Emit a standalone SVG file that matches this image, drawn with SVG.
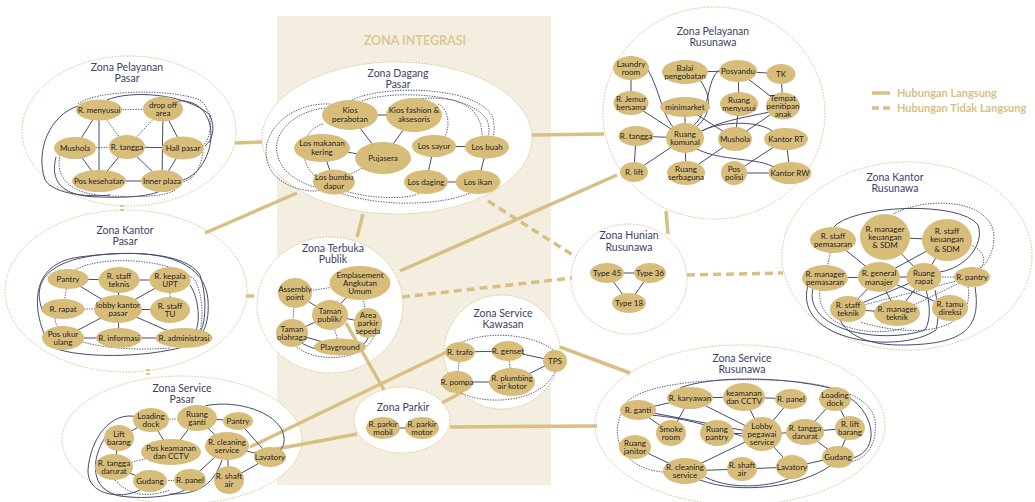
<svg xmlns="http://www.w3.org/2000/svg" width="1035" height="502" viewBox="0 0 1035 502">
<style>
.z{fill:#fff;stroke:#d9c38f;stroke-width:1;stroke-dasharray:1.6 1.4}
.zt{font-family:Lato,"Liberation Sans",sans-serif;font-size:10.5px;fill:#3d4266;text-anchor:middle}
.n ellipse{fill:#d7bc7a}
.n text{font-family:Lato,"Liberation Sans",sans-serif;font-size:8px;fill:#1f1f1f;text-anchor:middle}
.e{stroke:#454c6c;stroke-width:1;fill:none}
.d{stroke:#454c6c;stroke-width:0.9;fill:none;stroke-dasharray:1.4 1.2}
.c{stroke:#d8c084;stroke-width:3.5;fill:none}
.cd{stroke:#d8c084;stroke-width:3.5;fill:none;stroke-dasharray:8 5}
.lg{font-family:Lato,"Liberation Sans",sans-serif;font-size:11px;font-weight:bold;fill:#d8c084}
</style>
<rect x="277" y="16" width="274" height="469" fill="#f4eee0"/>
<text x="415" y="45" text-anchor="middle" style="font-family:Lato,'Liberation Sans',sans-serif;font-size:12.5px;font-weight:bold;fill:#dcc796">ZONA INTEGRASI</text>

<g id="legend">
<line class="c" x1="872" y1="93" x2="890" y2="93"/>
<line class="c" x1="872" y1="108" x2="890" y2="108" stroke-dasharray="7 4"/>
<text class="lg" x="897" y="97">Hubungan Langsung</text>
<text class="lg" x="897" y="112">Hubungan Tidak Langsung</text>
</g>

<g id="zones">
<g id="zona-pelayanan-pasar"><ellipse class="z" cx="129" cy="131" rx="107" ry="75"/><text class="zt" x="127" y="71">Zona Pelayanan</text><text class="zt" x="127" y="82">Pasar</text></g>
<g id="zona-dagang-pasar"><ellipse class="z" cx="397" cy="138" rx="135" ry="76"/><text class="zt" x="398" y="77">Zona Dagang</text><text class="zt" x="398" y="88">Pasar</text></g>
<g id="zona-pelayanan-rusunawa"><ellipse class="z" cx="714" cy="113" rx="111" ry="106"/><text class="zt" x="713" y="35">Zona Pelayanan</text><text class="zt" x="713" y="46">Rusunawa</text></g>
<g id="zona-kantor-rusunawa"><ellipse class="z" cx="907" cy="256" rx="125" ry="94"/><text class="zt" x="895" y="181">Zona Kantor</text><text class="zt" x="895" y="192">Rusunawa</text></g>
<g id="zona-kantor-pasar"><ellipse class="z" cx="126" cy="291" rx="121" ry="81"/><text class="zt" x="125" y="234">Zona Kantor</text><text class="zt" x="125" y="245">Pasar</text></g>
<g id="zona-terbuka-publik"><ellipse class="z" cx="330" cy="305" rx="73" ry="68"/><text class="zt" x="333" y="252">Zona Terbuka</text><text class="zt" x="333" y="263">Publik</text></g>
<g id="zona-hunian-rusunawa"><ellipse class="z" cx="629" cy="279" rx="58" ry="55"/><text class="zt" x="629" y="239">Zona Hunian</text><text class="zt" x="629" y="251">Rusunawa</text></g>
<g id="zona-service-kawasan"><ellipse class="z" cx="502" cy="352" rx="58" ry="57"/><text class="zt" x="503" y="317">Zona Service</text><text class="zt" x="503" y="328">Kawasan</text></g>
<g id="zona-parkir"><ellipse class="z" cx="402" cy="420" rx="48" ry="33"/><text class="zt" x="403" y="411">Zona Parkir</text></g>
<g id="zona-service-pasar"><ellipse class="z" cx="182" cy="440" rx="120" ry="64"/><text class="zt" x="182" y="392">Zona Service</text><text class="zt" x="182" y="403">Pasar</text></g>
<g id="zona-service-rusunawa"><ellipse class="z" cx="740" cy="425" rx="145" ry="80"/><text class="zt" x="742" y="362">Zona Service</text><text class="zt" x="742" y="373">Rusunawa</text></g>
</g>

<g id="connectors">
<!-- zone links -->
<line class="c" x1="235" y1="143" x2="262" y2="142"/>
<line class="c" x1="205" y1="233" x2="297" y2="193"/>
<line class="c" x1="122" y1="205" x2="122" y2="211" stroke-dasharray="2 2"/>
<line class="c" x1="148" y1="369" x2="148" y2="377" stroke-dasharray="2 2"/>
<line class="cd" x1="246" y1="296" x2="258" y2="296" stroke-dasharray="5 3"/>
<line class="c" x1="363" y1="214" x2="357" y2="237"/>
<line class="c" x1="400" y1="271" x2="617" y2="175"/>
<line class="c" x1="532" y1="135" x2="604" y2="134"/>
<line class="cd" x1="488" y1="201" x2="576" y2="257"/>
<line class="cd" x1="402" y1="297" x2="572" y2="278"/>
<line class="cd" x1="687" y1="275" x2="783" y2="273"/>
<line class="c" x1="666" y1="211" x2="668" y2="234"/>
<line class="c" x1="560" y1="347" x2="630" y2="373"/>
<line class="c" x1="450" y1="427" x2="597" y2="426"/>
<line class="c" x1="442" y1="403" x2="462" y2="392"/>
<line class="c" x1="250" y1="447" x2="447" y2="352"/>
<line class="c" x1="255" y1="453" x2="357" y2="434"/>
<line class="c" x1="346" y1="323" x2="384" y2="390"/>

<!-- Zona Pelayanan Pasar -->
<path class="d" d="M99,110L163,109M99,110L127,147M163,109L127,147M75,148L127,147"/>
<path class="e" d="M99,110L75,148M99,110L99,181M163,109L162,181M163,109L183,148M75,148L99,181M127,147L99,181M127,147L162,181M183,148L162,181"/>
<path class="e" stroke-width="2" d="M127,147L183,148M99,181L162,181"/>
<path class="d" d="M78,104C95,90 170,88 200,100C215,112 212,140 202,146"/>
<path class="e" d="M107,100C130,90 185,93 210,115C216,130 212,140 205,146"/>
<path class="d" d="M203,152C200,170 195,178 183,182"/>
<path class="e" d="M78,106C50,115 35,150 45,180C55,195 90,197 110,195"/>
<path class="e" d="M56,157C50,180 60,197 100,197C130,198 150,196 160,191"/>
<path class="e" d="M183,180C200,175 215,150 210,125C205,105 190,100 178,101"/>
<path class="d" d="M60,155C55,178 70,195 110,196C140,197 165,197 175,190"/>

<!-- Zona Dagang Pasar -->
<path class="e" d="M350,115L414,115M322,148L383,158M322,148L334,182M434,146L487,147M434,146L426,182M487,147L478,182M426,182L478,182M414,115L383,158"/>
<path class="e" stroke-width="0.7" d="M350,115L383,158"/>
<path class="d" d="M383,158L334,182"/>
<path class="d" d="M362,101C390,90 470,92 487,120C490,128 489,133 488,136"/>
<path class="d" d="M352,100C385,84 480,86 493,118C495,128 494,133 493,137"/>
<path class="d" d="M420,99C455,95 482,105 482,136"/>
<path class="d" d="M438,104C452,110 450,138 440,140"/>
<path class="d" d="M325,108C290,112 262,140 285,170C298,183 315,188 322,188"/>
<path class="d" d="M330,104C285,102 252,140 272,172C285,190 315,193 320,190"/>
<path class="d" d="M323,124C300,130 298,162 315,176"/>
<path class="d" d="M340,193C380,207 440,206 470,193"/>
<path class="d" d="M345,191C375,200 410,199 420,193"/>

<!-- Zona Pelayanan Rusunawa -->
<path class="e" d="M631,68L631,103M631,103L685,138M685,72L738,71M738,71L781,74M738,71L739,104M738,71L783,106M781,74L783,106M685,107L685,138M739,104L735,139M636,136L685,138M636,136L634,172M634,172L685,138M685,138L686,173M735,139L686,173M786,139L734,173M786,139L790,173M734,173L790,173"/>
<path class="e" stroke-width="0.7" d="M685,107L735,139M783,106L735,139"/>
<path class="e" d="M648,70C660,90 662,118 676,130"/>
<path class="e" d="M700,80C715,100 708,120 694,128"/>
<path class="e" d="M720,70C705,78 712,115 690,128"/>
<path class="e" stroke-width="0.7" d="M770,112C740,118 718,122 700,132"/>
<path class="e" d="M700,132C720,120 765,120 775,134"/>
<path class="e" d="M695,148C720,162 760,157 775,168"/>

<!-- Zona Kantor Rusunawa -->
<path class="e" d="M833,240L879,277M885,237L947,240M885,237L924,277M947,240L879,277M947,240L924,277M825,278L879,277M879,277L924,277M879,277L848,309M879,277L897,313M879,277L950,308M924,277L848,309M924,277L897,313M848,309L897,313"/>
<path class="d" d="M833,240L825,278M924,277L972,277M848,309L972,277M897,313L972,277"/>
<path class="e" d="M833,228C850,205 960,200 978,225C985,245 965,268 940,272"/>
<path class="d" d="M893,214C930,195 992,200 994,236C994,255 985,265 980,268"/>
<path class="d" d="M970,245C985,250 986,262 981,268"/>
<path class="e" d="M813,288C803,330 880,345 925,330C932,318 929,300 926,290"/>
<path class="e" d="M808,285C792,342 900,355 936,330C940,315 937,300 935,290"/>
<path class="e" d="M975,287C982,330 962,345 900,345C860,345 845,330 840,320"/>
<path class="d" d="M968,287C975,330 920,340 860,322"/>
<path class="d" d="M820,290C815,328 870,338 905,328"/>

<!-- Zona Kantor Pasar -->
<path class="e" d="M68,279L119,280M119,280L170,280M119,280L118,309M170,280L118,309M118,309L170,310M118,309L63,338M118,309L119,338M118,309L184,338M63,338L119,338M119,338L184,338"/>
<path class="e" stroke-width="0.7" d="M68,279L118,309"/>
<path class="d" d="M68,279L63,309M170,280L170,310M63,309L118,309"/>
<path class="e" d="M190,285C200,300 200,325 195,332"/>
<path class="e" d="M43,312C30,280 50,258 110,254C170,250 205,265 208,300C210,330 200,345 170,350C120,360 60,355 50,345"/>
<path class="e" d="M45,336C30,300 35,262 80,257C130,250 185,252 200,275C208,300 205,325 200,332"/>
<path class="d" d="M75,270C100,255 170,258 195,280C205,300 202,325 200,330"/>
<path class="d" d="M55,318C55,345 120,352 170,348"/>

<!-- Zona Terbuka Publik -->
<path class="d" d="M295,293L360,283M295,293L292,333M360,283L368,323M330,315L340,347"/>
<path class="e" stroke-width="0.7" d="M295,293L330,315"/>
<path class="e" d="M360,283L330,315M330,315L292,333M330,315L368,323M292,333L340,347"/>
<path class="d" d="M295,345C310,362 362,364 374,336"/>
<path class="e" d="M300,342C320,355 360,357 368,338"/>

<!-- Zona Hunian -->
<path class="e" d="M607,273L650,273L629,303Z"/>

<!-- Zona Service Kawasan -->
<path class="e" d="M460,352L508,351M508,351L555,361M457,382L512,382M512,382L555,361"/>
<path class="d" d="M460,352L457,382M508,351L512,382"/>
<path class="d" d="M462,342C490,330 535,335 553,350"/>
<path class="d" d="M460,392C480,405 540,405 555,372"/>

<!-- Zona Parkir -->
<path class="e" d="M383,428L422,428"/>

<!-- Zona Service Pasar -->
<path class="d" d="M151,420L197,418M114,467L171,452M150,481L190,480"/>
<path class="e" d="M151,420L119,438M197,418L238,421M197,418L171,452M197,418L227,446M238,421L270,457M227,446L270,457M227,446L229,480M227,446L190,480M119,438L114,467M114,467L150,481M270,457L229,480"/>
<path class="e" stroke-width="0.7" d="M151,420L171,452"/>
<path class="e" d="M138,417C110,410 90,440 88,470C87,495 120,500 140,490"/>
<path class="e" d="M106,436C90,460 90,490 120,496C150,500 175,495 185,490"/>
<path class="e" d="M205,406C230,400 270,408 282,430C288,445 280,450 278,452"/>
<path class="e" d="M222,460C215,482 200,495 170,494"/>
<path class="d" d="M115,480C130,497 150,497 170,490"/>

<!-- Zona Service Rusunawa -->
<path class="e" d="M690,398L638,410M690,398L744,397M690,398L671,433M690,398L762,434M744,397L791,399M744,397L762,434M791,399L762,434M638,410L671,433M638,410L762,434M717,433L762,434M762,434L805,432M762,434L792,467M762,434L685,471M835,399L805,432M835,399L850,428M805,432L850,428M805,432L838,457M850,428L838,457M838,457L792,467M635,447L685,471M685,471L742,469M742,469L792,467"/>
<path class="e" d="M650,415C690,418 720,430 745,437"/>
<path class="e" d="M850,398C875,415 880,450 853,458"/>
<path class="e" d="M700,480C740,495 800,487 830,466"/>
<path class="e" d="M705,477C735,492 775,485 790,478"/>
<path class="e" d="M680,388C710,376 780,376 830,388"/>
<path class="d" d="M625,404C640,385 700,378 770,380C830,382 870,395 875,420C878,445 865,460 850,462"/>
<path class="d" d="M622,412C610,435 620,468 663,472"/>
</g>

<!-- Nodes: Zona Pelayanan Pasar -->
<g id="pp-menyusui" class="n"><ellipse cx="99" cy="110" rx="23" ry="10.5"/><text x="99" y="113">R. menyusui</text></g>
<g id="pp-dropoff" class="n"><ellipse cx="163" cy="109" rx="20" ry="12.5"/><text x="163" y="107.5"><tspan x="163">drop off</tspan><tspan x="163" dy="8">area</tspan></text></g>
<g id="pp-mushola" class="n"><ellipse cx="75" cy="148" rx="21" ry="11"/><text x="75" y="151">Mushola</text></g>
<g id="pp-tangga" class="n"><ellipse cx="127" cy="147" rx="18" ry="12"/><text x="127" y="150">R. tangga</text></g>
<g id="pp-hall" class="n"><ellipse cx="183" cy="148" rx="21" ry="11.5"/><text x="183" y="151">Hall pasar</text></g>
<g id="pp-poskes" class="n"><ellipse cx="99" cy="181" rx="27" ry="11"/><text x="99" y="184">Pos kesehatan</text></g>
<g id="pp-inner" class="n"><ellipse cx="162" cy="181" rx="21" ry="11"/><text x="162" y="184">Inner plaza</text></g>

<!-- Zona Dagang Pasar -->
<g id="dp-kiosperabotan" class="n"><ellipse cx="350" cy="115" rx="28" ry="15"/><text x="350" y="113"><tspan x="350">Kios</tspan><tspan x="350" dy="8.5">perabotan</tspan></text></g>
<g id="dp-kiosfashion" class="n"><ellipse cx="414" cy="115" rx="28" ry="17"/><text x="414" y="113"><tspan x="414">Kios fashion &amp;</tspan><tspan x="414" dy="8.5">aksesoris</tspan></text></g>
<g id="dp-losmakanan" class="n"><ellipse cx="322" cy="148" rx="28" ry="14"/><text x="322" y="146"><tspan x="322">Los makanan</tspan><tspan x="322" dy="8.5">kering</tspan></text></g>
<g id="dp-pujasera" class="n"><ellipse cx="383" cy="158" rx="28" ry="16"/><text x="383" y="161">Pujasera</text></g>
<g id="dp-lossayur" class="n"><ellipse cx="434" cy="146" rx="22" ry="11"/><text x="434" y="149">Los sayur</text></g>
<g id="dp-losbuah" class="n"><ellipse cx="487" cy="147" rx="22" ry="11.5"/><text x="487" y="150">Los buah</text></g>
<g id="dp-losbumbu" class="n"><ellipse cx="334" cy="182" rx="21" ry="12.5"/><text x="334" y="180"><tspan x="334">Los bumbu</tspan><tspan x="334" dy="8.5">dapur</tspan></text></g>
<g id="dp-losdaging" class="n"><ellipse cx="426" cy="182" rx="22" ry="12"/><text x="426" y="185">Los daging</text></g>
<g id="dp-losikan" class="n"><ellipse cx="478" cy="182" rx="22.5" ry="12"/><text x="478" y="185">Los ikan</text></g>

<!-- Zona Pelayanan Rusunawa -->
<g id="pr-laundry" class="n"><ellipse cx="631" cy="68" rx="18" ry="12"/><text x="631" y="66.5"><tspan x="631">Laundry</tspan><tspan x="631" dy="8">room</tspan></text></g>
<g id="pr-balai" class="n"><ellipse cx="685" cy="72" rx="23" ry="12"/><text x="685" y="70.5"><tspan x="685">Balai</tspan><tspan x="685" dy="8">pengobatan</tspan></text></g>
<g id="pr-posyandu" class="n"><ellipse cx="738" cy="71" rx="19" ry="11"/><text x="738" y="74">Posyandu</text></g>
<g id="pr-tk" class="n"><ellipse cx="781" cy="74" rx="14.5" ry="10"/><text x="781" y="77">TK</text></g>
<g id="pr-jemur" class="n"><ellipse cx="631" cy="103" rx="17.5" ry="12"/><text x="631" y="101.5"><tspan x="631">R. Jemur</tspan><tspan x="631" dy="8">bersama</tspan></text></g>
<g id="pr-minimarket" class="n"><ellipse cx="685" cy="107" rx="25" ry="10"/><text x="685" y="110">minimarket</text></g>
<g id="pr-menyusui" class="n"><ellipse cx="739" cy="104" rx="19" ry="12"/><text x="739" y="102.5"><tspan x="739">Ruang</tspan><tspan x="739" dy="8">menyusui</tspan></text></g>
<g id="pr-penitipan" class="n"><ellipse cx="783" cy="106" rx="17" ry="13.5"/><text x="783" y="100.5"><tspan x="783">Tempat</tspan><tspan x="783" dy="8">penitipan</tspan><tspan x="783" dy="8">anak</tspan></text></g>
<g id="pr-tangga" class="n"><ellipse cx="636" cy="136" rx="17.5" ry="10"/><text x="636" y="139">R. tangga</text></g>
<g id="pr-komunal" class="n"><ellipse cx="685" cy="138" rx="19" ry="15"/><text x="685" y="136.5"><tspan x="685">Ruang</tspan><tspan x="685" dy="8">komunal</tspan></text></g>
<g id="pr-mushola" class="n"><ellipse cx="735" cy="139" rx="17" ry="12"/><text x="735" y="142">Mushola</text></g>
<g id="pr-kantorrt" class="n"><ellipse cx="786" cy="139" rx="22" ry="11"/><text x="786" y="142">Kantor RT</text></g>
<g id="pr-lift" class="n"><ellipse cx="634" cy="172" rx="14" ry="10"/><text x="634" y="175">R. lift</text></g>
<g id="pr-serbaguna" class="n"><ellipse cx="686" cy="173" rx="19" ry="12"/><text x="686" y="171.5"><tspan x="686">Ruang</tspan><tspan x="686" dy="8">serbaguna</tspan></text></g>
<g id="pr-pospolisi" class="n"><ellipse cx="734" cy="173" rx="13" ry="12"/><text x="734" y="171.5"><tspan x="734">Pos</tspan><tspan x="734" dy="8">polisi</tspan></text></g>
<g id="pr-kantorrw" class="n"><ellipse cx="790" cy="173" rx="21.5" ry="11"/><text x="790" y="176">Kantor RW</text></g>

<!-- Zona Kantor Rusunawa -->
<g id="kr-staffpemasaran" class="n"><ellipse cx="833" cy="240" rx="23" ry="13"/><text x="833" y="238.5"><tspan x="833">R. staff</tspan><tspan x="833" dy="8">pemasaran</tspan></text></g>
<g id="kr-mgrkeuangan" class="n"><ellipse cx="885" cy="237" rx="25" ry="23"/><text x="885" y="231.5"><tspan x="885">R. manager</tspan><tspan x="885" dy="8">keuangan</tspan><tspan x="885" dy="8.5">&amp; SDM</tspan></text></g>
<g id="kr-staffkeuangan" class="n"><ellipse cx="947" cy="240" rx="25" ry="21"/><text x="947" y="233.5"><tspan x="947">R. staff</tspan><tspan x="947" dy="8">keuangan</tspan><tspan x="947" dy="10">&amp; SDM</tspan></text></g>
<g id="kr-mgrpemasaran" class="n"><ellipse cx="825" cy="278" rx="23" ry="13"/><text x="825" y="276.5"><tspan x="825">R. manager</tspan><tspan x="825" dy="8">pemasaran</tspan></text></g>
<g id="kr-gm" class="n"><ellipse cx="879" cy="277" rx="21" ry="15"/><text x="879" y="275.5"><tspan x="879">R. general</tspan><tspan x="879" dy="9">manajer</tspan></text></g>
<g id="kr-rapat" class="n"><ellipse cx="924" cy="277" rx="17.5" ry="14"/><text x="924" y="275.5"><tspan x="924">Ruang</tspan><tspan x="924" dy="8">rapat</tspan></text></g>
<g id="kr-pantry" class="n"><ellipse cx="972" cy="277" rx="18" ry="10"/><text x="972" y="280">R. pantry</text></g>
<g id="kr-staffteknik" class="n"><ellipse cx="848" cy="309" rx="18" ry="13"/><text x="848" y="307.5"><tspan x="848">R. staff</tspan><tspan x="848" dy="8">teknik</tspan></text></g>
<g id="kr-mgrteknik" class="n"><ellipse cx="897" cy="313" rx="23" ry="13"/><text x="897" y="311.5"><tspan x="897">R. manager</tspan><tspan x="897" dy="8">teknik</tspan></text></g>
<g id="kr-tamu" class="n"><ellipse cx="950" cy="308" rx="18" ry="13"/><text x="950" y="306.5"><tspan x="950">R. tamu</tspan><tspan x="950" dy="8">direksi</tspan></text></g>

<!-- Zona Kantor Pasar -->
<g id="kp-pantry" class="n"><ellipse cx="68" cy="279" rx="20.5" ry="10"/><text x="68" y="282">Pantry</text></g>
<g id="kp-staffteknis" class="n"><ellipse cx="119" cy="280" rx="20.5" ry="13"/><text x="119" y="278.5"><tspan x="119">R. staff</tspan><tspan x="119" dy="8">teknis</tspan></text></g>
<g id="kp-kepala" class="n"><ellipse cx="170" cy="280" rx="20.5" ry="13"/><text x="170" y="278.5"><tspan x="170">R. kepala</tspan><tspan x="170" dy="8.5">UPT</tspan></text></g>
<g id="kp-rapat" class="n"><ellipse cx="63" cy="309" rx="21.5" ry="10"/><text x="63" y="312">R. rapat</text></g>
<g id="kp-lobby" class="n"><ellipse cx="118" cy="309" rx="24" ry="14"/><text x="118" y="307.5"><tspan x="118">lobby kantor</tspan><tspan x="118" dy="8.5">pasar</tspan></text></g>
<g id="kp-staffTU" class="n"><ellipse cx="170" cy="310" rx="20" ry="13"/><text x="170" y="308.5"><tspan x="170">R. staff</tspan><tspan x="170" dy="8.5">TU</tspan></text></g>
<g id="kp-posukur" class="n"><ellipse cx="63" cy="338" rx="21" ry="12"/><text x="63" y="336.5"><tspan x="63">Pos ukur</tspan><tspan x="63" dy="8">ulang</tspan></text></g>
<g id="kp-informasi" class="n"><ellipse cx="119" cy="338" rx="23" ry="10"/><text x="119" y="341">R. informasi</text></g>
<g id="kp-administrasi" class="n"><ellipse cx="184" cy="338" rx="28.5" ry="10"/><text x="184" y="341">R. administrasi</text></g>

<!-- Zona Terbuka Publik -->
<g id="tp-assembly" class="n"><ellipse cx="295" cy="293" rx="17" ry="15"/><text x="295" y="291.5"><tspan x="295">Assembly</tspan><tspan x="295" dy="8">point</tspan></text></g>
<g id="tp-emplasement" class="n"><ellipse cx="360" cy="283" rx="30.5" ry="17"/><text x="360" y="277.5"><tspan x="360">Emplasement</tspan><tspan x="360" dy="8">Angkutan</tspan><tspan x="360" dy="8">Umum</tspan></text></g>
<g id="tp-taman" class="n"><ellipse cx="330" cy="315" rx="18" ry="15"/><text x="330" y="313.5"><tspan x="330">Taman</tspan><tspan x="330" dy="8">publik/</tspan></text></g>
<g id="tp-parkirsepeda" class="n"><ellipse cx="368" cy="323" rx="14" ry="15"/><text x="368" y="317.5"><tspan x="368">Area</tspan><tspan x="368" dy="8">parkir</tspan><tspan x="368" dy="8">sepeda</tspan></text></g>
<g id="tp-olahraga" class="n"><ellipse cx="292" cy="333" rx="16" ry="14"/><text x="292" y="331.5"><tspan x="292">Taman</tspan><tspan x="292" dy="8">olahraga</tspan></text></g>
<g id="tp-playground" class="n"><ellipse cx="340" cy="347" rx="26" ry="8.5"/><text x="340" y="350">Playground</text></g>

<!-- Zona Hunian Rusunawa -->
<g id="hr-45" class="n"><ellipse cx="607" cy="273" rx="17" ry="10"/><text x="607" y="276">Type 45</text></g>
<g id="hr-36" class="n"><ellipse cx="650" cy="273" rx="16" ry="10"/><text x="650" y="276">Type 36</text></g>
<g id="hr-18" class="n"><ellipse cx="629" cy="303" rx="17" ry="10"/><text x="629" y="306">Type 18</text></g>

<!-- Zona Service Kawasan -->
<g id="sk-trafo" class="n"><ellipse cx="460" cy="352" rx="15" ry="10"/><text x="460" y="355">R. trafo</text></g>
<g id="sk-genset" class="n"><ellipse cx="508" cy="351" rx="16" ry="10"/><text x="508" y="354">R. genset</text></g>
<g id="sk-tps" class="n"><ellipse cx="555" cy="361" rx="12" ry="11"/><text x="555" y="364">TPS</text></g>
<g id="sk-pompa" class="n"><ellipse cx="457" cy="382" rx="16" ry="11"/><text x="457" y="385">R. pompa</text></g>
<g id="sk-plumbing" class="n"><ellipse cx="512" cy="382" rx="23" ry="14"/><text x="512" y="380.5"><tspan x="512">R. plumbing</tspan><tspan x="512" dy="8">air kotor</tspan></text></g>

<!-- Zona Parkir -->
<g id="pk-mobil" class="n"><ellipse cx="383" cy="428" rx="17" ry="11"/><text x="383" y="426.5"><tspan x="383">R. parkir</tspan><tspan x="383" dy="8">mobil</tspan></text></g>
<g id="pk-motor" class="n"><ellipse cx="422" cy="428" rx="17" ry="11"/><text x="422" y="426.5"><tspan x="422">R. parkir</tspan><tspan x="422" dy="8">motor</tspan></text></g>

<!-- Zona Service Pasar -->
<g id="sp-loading" class="n"><ellipse cx="151" cy="420" rx="18" ry="12"/><text x="151" y="418.5"><tspan x="151">Loading</tspan><tspan x="151" dy="8">dock</tspan></text></g>
<g id="sp-ganti" class="n"><ellipse cx="197" cy="418" rx="20" ry="13"/><text x="197" y="416.5"><tspan x="197">Ruang</tspan><tspan x="197" dy="8">ganti</tspan></text></g>
<g id="sp-pantry" class="n"><ellipse cx="238" cy="421" rx="15" ry="9"/><text x="238" y="424">Pantry</text></g>
<g id="sp-lift" class="n"><ellipse cx="119" cy="438" rx="15" ry="13"/><text x="119" y="436.5"><tspan x="119">Lift</tspan><tspan x="119" dy="8">barang</tspan></text></g>
<g id="sp-poskeamanan" class="n"><ellipse cx="171" cy="452" rx="30" ry="13"/><text x="171" y="450.5"><tspan x="171">Pos keamanan</tspan><tspan x="171" dy="8.5">dan CCTV</tspan></text></g>
<g id="sp-cleaning" class="n"><ellipse cx="227" cy="446" rx="22" ry="14"/><text x="227" y="444.5"><tspan x="227">R. cleaning</tspan><tspan x="227" dy="8">service</tspan></text></g>
<g id="sp-lavatory" class="n"><ellipse cx="270" cy="457" rx="16" ry="10"/><text x="270" y="460">Lavatory</text></g>
<g id="sp-tangga" class="n"><ellipse cx="114" cy="467" rx="19" ry="13"/><text x="114" y="465.5"><tspan x="114">R. tangga</tspan><tspan x="114" dy="8">darurat</tspan></text></g>
<g id="sp-gudang" class="n"><ellipse cx="150" cy="481" rx="17" ry="11"/><text x="150" y="484">Gudang</text></g>
<g id="sp-panel" class="n"><ellipse cx="190" cy="480" rx="16" ry="11"/><text x="190" y="483">R. panel</text></g>
<g id="sp-shaft" class="n"><ellipse cx="229" cy="480" rx="15" ry="14"/><text x="229" y="478.5"><tspan x="229">R. shaft</tspan><tspan x="229" dy="8">air</tspan></text></g>

<!-- Zona Service Rusunawa -->
<g id="sr-karyawan" class="n"><ellipse cx="690" cy="398" rx="23" ry="11"/><text x="690" y="401">R. karyawan</text></g>
<g id="sr-keamanan" class="n"><ellipse cx="744" cy="397" rx="21" ry="14"/><text x="744" y="395.5"><tspan x="744">keamanan</tspan><tspan x="744" dy="8">dan CCTV</tspan></text></g>
<g id="sr-panel" class="n"><ellipse cx="791" cy="399" rx="16" ry="10"/><text x="791" y="402">R. panel</text></g>
<g id="sr-loading" class="n"><ellipse cx="835" cy="399" rx="16" ry="12"/><text x="835" y="397.5"><tspan x="835">Loading</tspan><tspan x="835" dy="8">dock</tspan></text></g>
<g id="sr-ganti" class="n"><ellipse cx="638" cy="410" rx="18" ry="10"/><text x="638" y="413">R. ganti</text></g>
<g id="sr-smoke" class="n"><ellipse cx="671" cy="433" rx="15" ry="13"/><text x="671" y="431.5"><tspan x="671">Smoke</tspan><tspan x="671" dy="8">room</tspan></text></g>
<g id="sr-pantry" class="n"><ellipse cx="717" cy="433" rx="17" ry="13"/><text x="717" y="431.5"><tspan x="717">Ruang</tspan><tspan x="717" dy="8">pantry</tspan></text></g>
<g id="sr-lobby" class="n"><ellipse cx="762" cy="434" rx="20" ry="17"/><text x="762" y="428.5"><tspan x="762">Lobby</tspan><tspan x="762" dy="8">pegawai</tspan><tspan x="762" dy="8">service</tspan></text></g>
<g id="sr-tangga" class="n"><ellipse cx="805" cy="432" rx="19" ry="13"/><text x="805" y="430.5"><tspan x="805">R. tangga</tspan><tspan x="805" dy="8">darurat</tspan></text></g>
<g id="sr-lift" class="n"><ellipse cx="850" cy="428" rx="15" ry="12"/><text x="850" y="426.5"><tspan x="850">R. lift</tspan><tspan x="850" dy="8">barang</tspan></text></g>
<g id="sr-janitor" class="n"><ellipse cx="635" cy="447" rx="16" ry="12"/><text x="635" y="445.5"><tspan x="635">Ruang</tspan><tspan x="635" dy="8">janitor</tspan></text></g>
<g id="sr-gudang" class="n"><ellipse cx="838" cy="457" rx="16" ry="11"/><text x="838" y="460">Gudang</text></g>
<g id="sr-cleaning" class="n"><ellipse cx="685" cy="471" rx="22" ry="13"/><text x="685" y="469.5"><tspan x="685">R. cleaning</tspan><tspan x="685" dy="8">service</tspan></text></g>
<g id="sr-shaft" class="n"><ellipse cx="742" cy="469" rx="15" ry="12"/><text x="742" y="467.5"><tspan x="742">R. shaft</tspan><tspan x="742" dy="8">air</tspan></text></g>
<g id="sr-lavatory" class="n"><ellipse cx="792" cy="467" rx="16" ry="12"/><text x="792" y="470">Lavatory</text></g>
</svg>
